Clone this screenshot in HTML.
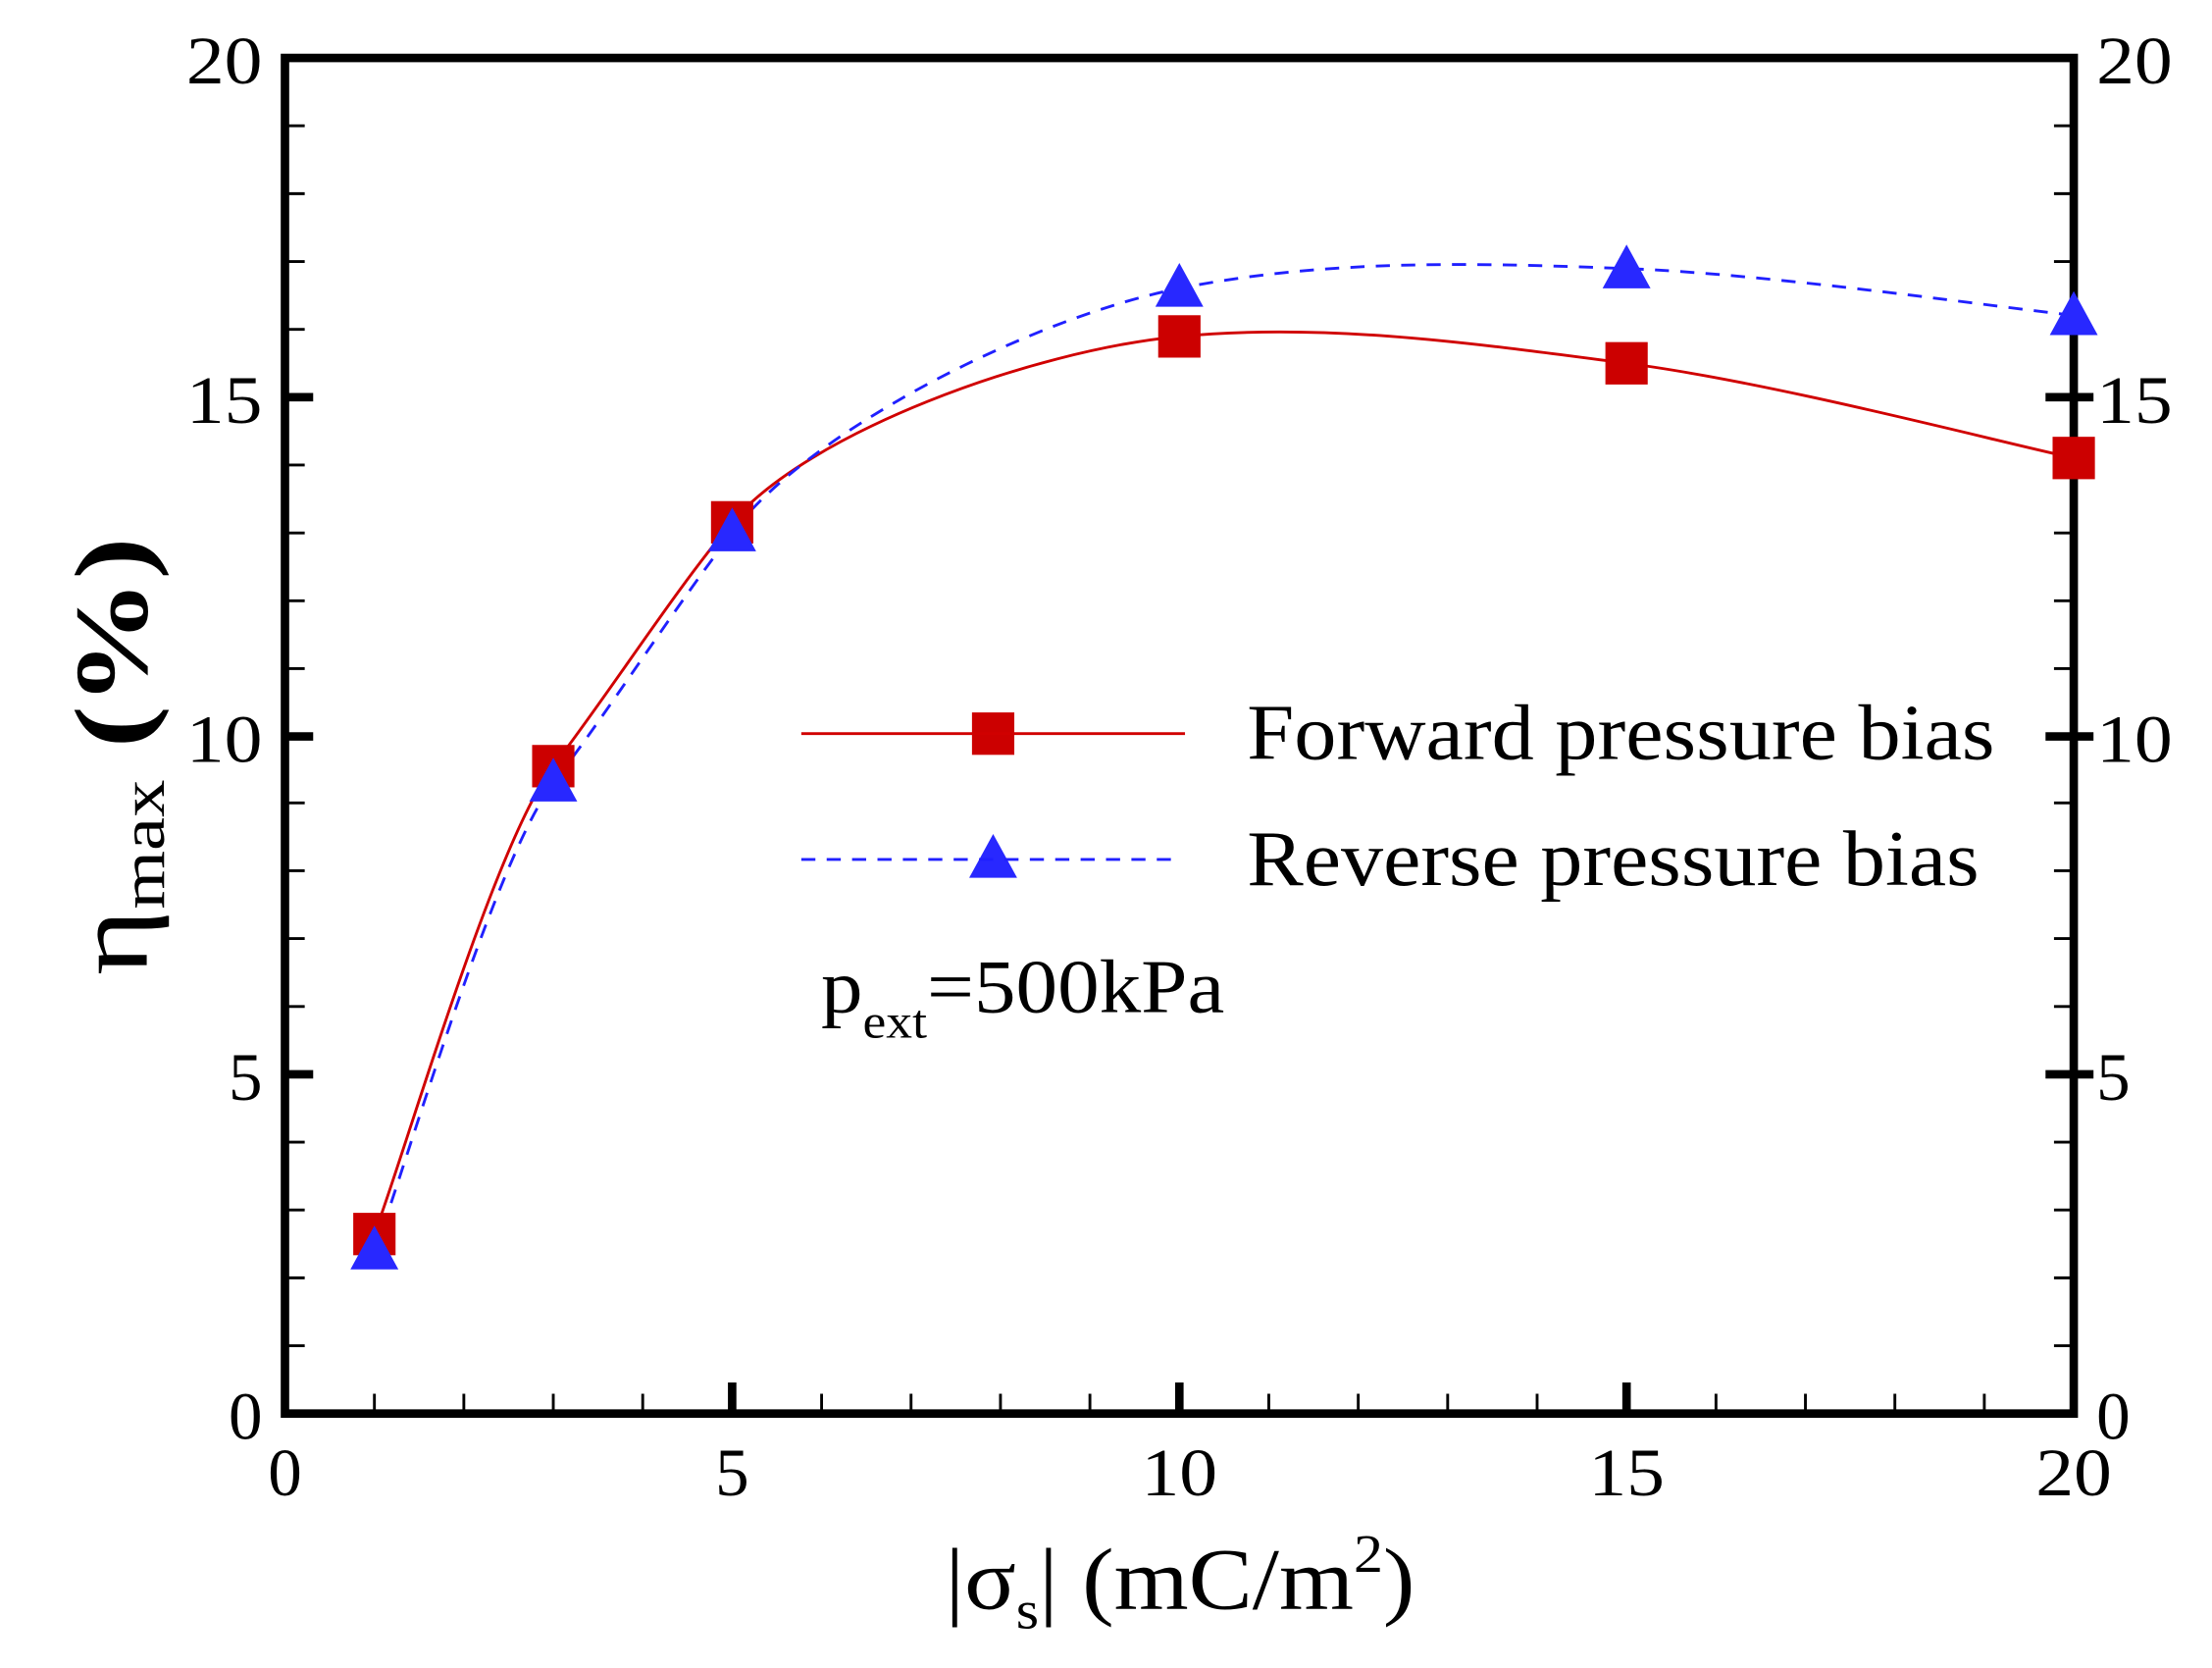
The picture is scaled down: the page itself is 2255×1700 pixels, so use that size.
<!DOCTYPE html>
<html><head><meta charset="utf-8"><style>html,body{margin:0;padding:0;background:#fff}svg{display:block}</style></head>
<body>
<svg width="2255" height="1700" viewBox="0 0 1568 1180" preserveAspectRatio="none" xmlns="http://www.w3.org/2000/svg" font-family="'Liberation Serif', serif">
<rect width="1568" height="1180" fill="#fff"/>
<g stroke="#000" stroke-width="2">
<path d="M202,952h14M202,904h14M202,856h14M202,808h14M202,712h14M202,664h14M202,616h14M202,568h14M202,473h14M202,425h14M202,377h14M202,329h14M202,233h14M202,185h14M202,137h14M202,89h14"/>
<path d="M1470,952h-14M1470,904h-14M1470,856h-14M1470,808h-14M1470,712h-14M1470,664h-14M1470,616h-14M1470,568h-14M1470,473h-14M1470,425h-14M1470,377h-14M1470,329h-14M1470,233h-14M1470,185h-14M1470,137h-14M1470,89h-14"/>
<path d="M265.4,1000v-14M328.8,1000v-14M392.2,1000v-14M455.6,1000v-14M582.4,1000v-14M645.8,1000v-14M709.2,1000v-14M772.6,1000v-14M899.4,1000v-14M962.8,1000v-14M1026.2,1000v-14M1089.6,1000v-14M1216.4,1000v-14M1279.8,1000v-14M1343.2,1000v-14M1406.6,1000v-14"/>
</g>
<g stroke="#000" stroke-width="6">
<path d="M202,760h20M202,521h20M202,281h20M1450,760h34M1450,521h34M1450,281h34M519,1000v-22M836,1000v-22M1153,1000v-22"/>
<rect x="202" y="41" width="1268" height="959" fill="none"/>
</g>
<g font-size="48" fill="#000" lengthAdjust="spacingAndGlyphs">
<text x="186" y="1018" text-anchor="end">0</text>
<text x="186" y="778" text-anchor="end">5</text>
<text x="186" y="539" text-anchor="end" textLength="54" lengthAdjust="spacingAndGlyphs">10</text>
<text x="186" y="299" text-anchor="end" textLength="54" lengthAdjust="spacingAndGlyphs">15</text>
<text x="186" y="59" text-anchor="end" textLength="54" lengthAdjust="spacingAndGlyphs">20</text>
<text x="1486" y="1018">0</text>
<text x="1486" y="778">5</text>
<text x="1486" y="539" textLength="54" lengthAdjust="spacingAndGlyphs">10</text>
<text x="1486" y="299" textLength="54" lengthAdjust="spacingAndGlyphs">15</text>
<text x="1486" y="59" textLength="54" lengthAdjust="spacingAndGlyphs">20</text>
<text x="202" y="1058" text-anchor="middle">0</text>
<text x="519" y="1058" text-anchor="middle">5</text>
<text x="809" y="1058" textLength="54" lengthAdjust="spacingAndGlyphs">10</text>
<text x="1126" y="1058" textLength="54" lengthAdjust="spacingAndGlyphs">15</text>
<text x="1443" y="1058" textLength="54" lengthAdjust="spacingAndGlyphs">20</text>
</g>
<text x="670" y="1138" font-size="62" textLength="333" lengthAdjust="spacingAndGlyphs">|σ<tspan font-size="38" dy="14">s</tspan><tspan dy="-14">| (mC/m</tspan><tspan font-size="38" dy="-26">2</tspan><tspan dy="26">)</tspan></text>
<text transform="translate(104,690) rotate(-90)" font-size="74" textLength="310" lengthAdjust="spacingAndGlyphs">η<tspan font-size="44" dy="12">max</tspan><tspan dy="-12" font-weight="bold"> (%)</tspan></text>
<path d="M265.4,873 C286.5,817.8 350,597.2 392.2,542 C434.5,486.8 476.8,419.7 519,369.5 C571.8,306.7 730.3,248 836,238 C941.7,228 1047.3,243.3 1153,257 C1258.7,270.7 1417.2,312.8 1470,324" fill="none" stroke="#d00000" stroke-width="2"/>
<path d="M265.4,885 C286.5,829.8 350,609.2 392.2,554 C434.5,498.8 476.8,431.7 519,377 C571.8,305.8 730.3,225 836,204 C941.7,183 1047.3,186 1153,190 C1258.7,194 1417.2,217.7 1470,223" fill="none" stroke="#2020ff" stroke-width="2" stroke-dasharray="10,8"/>
<g fill="#cc0000">
<rect x="250.4" y="858" width="30" height="30"/><rect x="377.2" y="527" width="30" height="30"/><rect x="504" y="354.5" width="30" height="30"/><rect x="821" y="223" width="30" height="30"/><rect x="1138" y="242" width="30" height="30"/><rect x="1455" y="309" width="30" height="30"/>
<rect x="689" y="504" width="30" height="30"/>
</g>
<g fill="#2828ff">
<path d="M265.4,867l17,31h-34z"/><path d="M392.2,536l17,31h-34z"/><path d="M519,359l17,31h-34z"/><path d="M836,186l17,31h-34z"/><path d="M1153,173l17,31h-34z"/><path d="M1470,206l17,31h-34z"/>
<path d="M704,590l17,31h-34z"/>
</g>
<path d="M568,519H840" stroke="#d00000" stroke-width="2"/>
<path d="M568,608H830" stroke="#2020ff" stroke-width="2" stroke-dasharray="10,8"/>
<text x="884" y="537" font-size="56" textLength="530" lengthAdjust="spacingAndGlyphs">Forward pressure bias</text>
<text x="884" y="626" font-size="56" textLength="519" lengthAdjust="spacingAndGlyphs">Reverse pressure bias</text>
<text x="582" y="716" font-size="54" textLength="286" lengthAdjust="spacingAndGlyphs">p<tspan font-size="34" dy="18">ext</tspan><tspan dy="-18">=500kPa</tspan></text>
</svg>
</body></html>
